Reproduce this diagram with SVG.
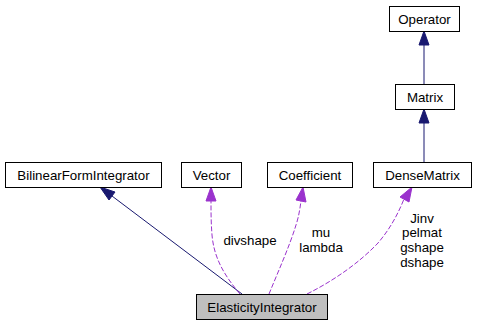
<svg xmlns="http://www.w3.org/2000/svg" width="477" height="325" viewBox="0 0 477 325">
  <style>
    .box { fill: #ffffff; stroke: #000000; stroke-width: 1; }
    .cur { fill: #bfbfbf; stroke: #000000; stroke-width: 1; }
    .lbl { font-family: "Liberation Sans", Arial, sans-serif; font-size: 13.3px; fill: #000000; text-anchor: middle; }
    .inh { fill: none; stroke: #191970; stroke-width: 1; }
    .inhHead { fill: #191970; stroke: #191970; stroke-width: 1; }
    .use { fill: none; stroke: #9a32cd; stroke-width: 1; stroke-dasharray: 5,2; }
    .useHead { fill: #9a32cd; stroke: #9a32cd; stroke-width: 1; }
  </style>
  <rect width="477" height="325" fill="#ffffff"/>

  <g id="edges">
    <!-- Matrix -> Operator -->
    <path class="inh" d="M424,84 L424,45"/>
    <polygon class="inhHead" points="424,31 429,45 419,45"/>
    <!-- DenseMatrix -> Matrix -->
    <path class="inh" d="M424,162 L424,123"/>
    <polygon class="inhHead" points="424,109 429,123 419,123"/>
    <!-- ElasticityIntegrator -> BilinearFormIntegrator -->
    <path class="inh" d="M242,294 L112,196"/>
    <polygon class="inhHead" points="100,187 115,192 109,200"/>
    <!-- ElasticityIntegrator -> Vector (divshape) -->
    <path class="use" d="M240,294 C224,275 214,258 212,235 C211,222 211,212 211,201"/>
    <polygon class="useHead" points="211,187 216,201 206,201"/>
    <!-- ElasticityIntegrator -> Coefficient (mu, lambda) -->
    <path class="use" d="M269,294 C278,272 290,245 296,225 C299,216 300,208 301,201"/>
    <polygon class="useHead" points="303,187 306,202 296,200"/>
    <!-- ElasticityIntegrator -> DenseMatrix (Jinv, pelmat, gshape, dshape) -->
    <path class="use" d="M307,294 C335,280 360,262 378,243 C390,229 398,214 404,199"/>
    <polygon class="useHead" points="412,187 409,202 400,197"/>
    <text class="lbl" x="250" y="245">divshape</text>
    <text class="lbl" x="321" y="237">mu</text>
    <text class="lbl" x="321" y="252">lambda</text>
    <text class="lbl" x="422" y="223">Jinv</text>
    <text class="lbl" x="422" y="237">pelmat</text>
    <text class="lbl" x="422" y="252">gshape</text>
    <text class="lbl" x="422" y="267">dshape</text>
  </g>

  <g id="node-operator">
    <rect class="box" x="389.5" y="6.5" width="70" height="25"/>
    <text class="lbl" x="424.5" y="23.5">Operator</text>
  </g>
  <g id="node-matrix">
    <rect class="box" x="395.5" y="84.5" width="59" height="25"/>
    <text class="lbl" x="425" y="101.5">Matrix</text>
  </g>
  <g id="node-densematrix">
    <rect class="box" x="373.5" y="162.5" width="98" height="25"/>
    <text class="lbl" x="422.5" y="179.5">DenseMatrix</text>
  </g>
  <g id="node-bilinearformintegrator">
    <rect class="box" x="5.5" y="162.5" width="156" height="25"/>
    <text class="lbl" x="83.5" y="179.5">BilinearFormIntegrator</text>
  </g>
  <g id="node-vector">
    <rect class="box" x="181.5" y="162.5" width="60" height="25"/>
    <text class="lbl" x="211.5" y="179.5">Vector</text>
  </g>
  <g id="node-coefficient">
    <rect class="box" x="267.5" y="162.5" width="85" height="25"/>
    <text class="lbl" x="310" y="179.5">Coefficient</text>
  </g>
  <g id="node-elasticityintegrator">
    <rect class="cur" x="196.5" y="294.5" width="131" height="25"/>
    <text class="lbl" x="262" y="311.5">ElasticityIntegrator</text>
  </g>
</svg>
